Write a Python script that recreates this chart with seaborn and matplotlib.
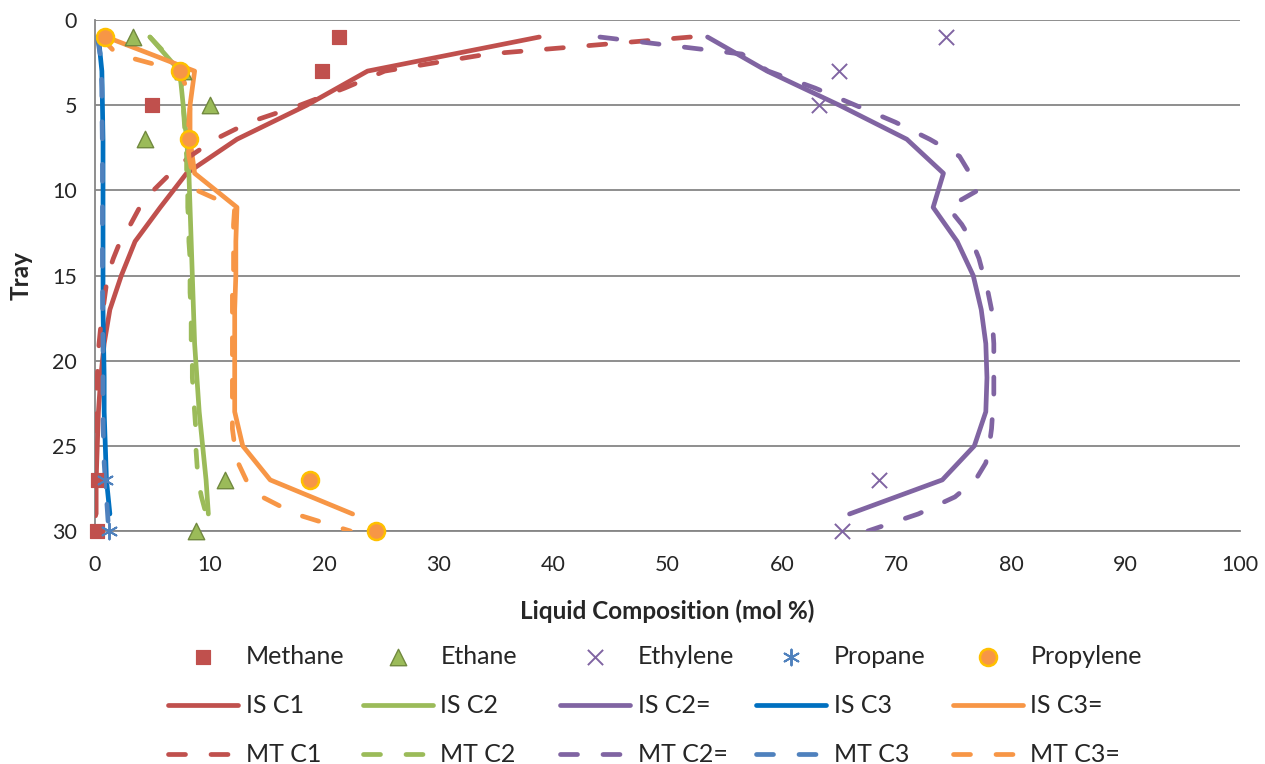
import numpy as np
import pandas as pd
import seaborn as sns
import matplotlib.pyplot as plt

# trays
trays_is = [1, 3, 5, 7, 9, 11, 13, 15, 17, 19, 21, 23, 25, 27, 29]
trays_mt = list(range(1, 31))

# experimental points (mol %)
methane_t = [1, 3, 5, 27, 30]
methane = [21.3, 19.8, 5.0, 0.25, 0.2]
ethane_t = [1, 3, 5, 7, 27, 30]
ethane = [3.3, 7.7, 10.0, 4.4, 11.35, 8.8]
ethylene_t = [1, 3, 5, 27, 30]
ethylene = [74.3, 65.0, 63.2, 68.5, 65.2]
propane_t = [27, 30]
propane = [0.9, 1.2]
propylene_t = [1, 3, 7, 27, 30]
propylene = [0.9, 7.4, 8.2, 18.8, 24.5]

# IS model profiles
is_c1 = [38.8, 23.8, 18.5, 12.4, 8.0, 5.7, 3.5, 2.3, 1.3, 0.8, 0.5, 0.3, 0.2, 0.1, 0.1]
is_c2 = [4.8, 7.4, 7.7, 8.0, 8.2, 8.3, 8.4, 8.5, 8.6, 8.7, 8.9, 9.1, 9.4, 9.7, 9.9]
is_c2e = [53.5, 58.7, 65.0, 70.9, 74.1, 73.2, 75.3, 76.7, 77.4, 77.8, 77.9, 77.8, 76.8, 74.0, 65.9]
is_c3 = [0.3, 0.6, 0.65, 0.7, 0.7, 0.7, 0.7, 0.7, 0.7, 0.75, 0.8, 0.8, 0.9, 1.0, 1.3]
is_c3e = [1.0, 8.7, 8.3, 8.3, 8.7, 12.4, 12.3, 12.3, 12.2, 12.2, 12.2, 12.2, 12.9, 15.3, 22.5]

# MT model profiles
mt_c1 = [52.0, 34.3, 25.3, 21.8, 17.9, 13.5, 10.5, 8.3, 6.6, 5.1,
         3.9, 3.1, 2.2, 1.6, 1.1, 0.9, 0.7, 0.5, 0.35, 0.25,
         0.2, 0.15, 0.12, 0.1, 0.1, 0.08, 0.06, 0.05, 0.05, 0.05]
mt_c2 = [4.8, 6.2, 7.4, 7.6, 7.7, 7.8, 7.9, 8.0, 8.0, 8.1,
         8.1, 8.2, 8.2, 8.3, 8.3, 8.3, 8.4, 8.4, 8.4, 8.5,
         8.5, 8.6, 8.7, 8.8, 8.8, 8.9, 9.0, 9.3, 9.7, 9.9]
mt_c2e = [44.1, 56.5, 58.8, 62.9, 66.4, 69.9, 72.9, 75.5, 76.4, 77.1,
          74.5, 75.7, 76.6, 77.2, 77.6, 78.0, 78.3, 78.4, 78.5, 78.5,
          78.5, 78.5, 78.4, 78.3, 78.1, 77.8, 76.9, 75.1, 71.9, 67.5]
mt_c3 = [0.2, 0.45, 0.55, 0.6, 0.6, 0.62, 0.64, 0.65, 0.65, 0.65,
         0.65, 0.65, 0.65, 0.65, 0.65, 0.66, 0.67, 0.68, 0.7, 0.7,
         0.7, 0.7, 0.7, 0.72, 0.75, 0.8, 0.9, 1.0, 1.1, 1.2]
mt_c3e = [0.5, 1.9, 7.4, 8.0, 8.3, 8.2, 8.1, 8.2, 8.5, 8.9,
          12.2, 12.1, 12.1, 12.1, 12.1, 12.0, 12.0, 12.0, 12.0, 12.0,
          12.0, 12.0, 12.0, 12.0, 12.2, 12.5, 13.2, 14.6, 17.5, 22.3]

RED, GREEN, PURPLE, BLUE, LBLUE, ORANGE = "#C0504D", "#9BBB59", "#8064A2", "#0070C0", "#4F81BD", "#F79646"
GRAY = "#868686"

sns.set_style("white")
plt.rcParams['font.family'] = ['Lato', 'DejaVu Sans']

W, H = 1265, 764
fig = plt.figure(figsize=(W / 100, H / 100), dpi=100)
ax = fig.add_axes([95 / W, 1 - 531 / H, (1240 - 95) / W, (531 - 20) / H])

lw = 3.4
dash = (0, (3.6, 5.4))

# scatter (experimental), not clipped at the axes edge
sns.scatterplot(x=methane, y=methane_t, marker="s", s=110, color=RED, edgecolor=RED,
                ax=ax, zorder=6, clip_on=False, label="Methane")
sns.scatterplot(x=ethane, y=ethane_t, marker="^", s=140, color=GREEN, edgecolor="#71893F", linewidth=1,
                ax=ax, zorder=6, clip_on=False, label="Ethane")
sns.scatterplot(x=ethylene, y=ethylene_t, marker="x", s=120, color=PURPLE, linewidth=1.4,
                ax=ax, zorder=6, clip_on=False, label="Ethylene")
sns.scatterplot(x=propane, y=propane_t, marker=(6, 2, 0), s=130, color=LBLUE, linewidth=1.4,
                ax=ax, zorder=6, clip_on=False, label="Propane")
sns.scatterplot(x=propylene, y=propylene_t, marker="o", s=150, color=ORANGE, edgecolor="#FFC000", linewidth=1.8,
                ax=ax, zorder=6, clip_on=False, label="Propylene")

# IS solid lines
is_sets = [("IS C1", is_c1, RED), ("IS C2", is_c2, GREEN), ("IS C2=", is_c2e, PURPLE),
           ("IS C3", is_c3, BLUE), ("IS C3=", is_c3e, ORANGE)]
for name, vals, col in is_sets:
    sns.lineplot(x=vals, y=trays_is, sort=False, estimator=None, color=col, linewidth=lw,
                 solid_capstyle="round", solid_joinstyle="round", ax=ax, label=name, zorder=3)

# MT dashed lines
mt_sets = [("MT C1", mt_c1, RED), ("MT C2", mt_c2, GREEN), ("MT C2=", mt_c2e, PURPLE),
           ("MT C3", mt_c3, LBLUE), ("MT C3=", mt_c3e, ORANGE)]
for name, vals, col in mt_sets:
    sns.lineplot(x=vals, y=trays_mt, sort=False, estimator=None, color=col, linewidth=lw,
                 linestyle=dash, dash_capstyle="round", ax=ax, label=name, zorder=4)

handles, labels = ax.get_legend_handles_labels()
ax.get_legend().remove()
hmap = dict(zip(labels, handles))

ax.set_xlim(0, 100)
ax.set_ylim(30, 0)
ax.set_xticks(range(0, 101, 10))
ax.set_yticks(range(0, 31, 5))
ax.yaxis.grid(True, color=GRAY, lw=1.3)
ax.xaxis.grid(False)
for sp in ["top", "right"]:
    ax.spines[sp].set_visible(False)
for sp in ["left", "bottom"]:
    ax.spines[sp].set_color(GRAY)
    ax.spines[sp].set_linewidth(1.3)
ax.tick_params(axis="x", direction="in", length=7, width=1.3, color=GRAY, labelsize=15.5, pad=17)
ax.tick_params(axis="y", direction="out", length=7, width=1.3, color=GRAY, labelsize=15.5, pad=6)
ax.set_xlabel("Liquid Composition (mol %)", fontsize=17.5, fontweight="bold", labelpad=18)
ax.set_ylabel("Tray", fontsize=17.5, fontweight="bold", labelpad=14)

# legend: five columns placed side by side
cols = [("Methane", "IS C1", "MT C1"), ("Ethane", "IS C2", "MT C2"), ("Ethylene", "IS C2=", "MT C2="),
        ("Propane", "IS C3", "MT C3"), ("Propylene", "IS C3=", "MT C3=")]
x_starts = [168, 363, 560, 756, 953]
for xs, names in zip(x_starts, cols):
    fig.legend([hmap[n] for n in names], list(names), loc="upper left",
               bbox_to_anchor=(xs / W, 1 - 645 / H), frameon=False,
               fontsize=18, handlelength=2.8, handletextpad=0.3,
               labelspacing=1.05, borderpad=0, borderaxespad=0)

fig.savefig("out.png", dpi=100)
